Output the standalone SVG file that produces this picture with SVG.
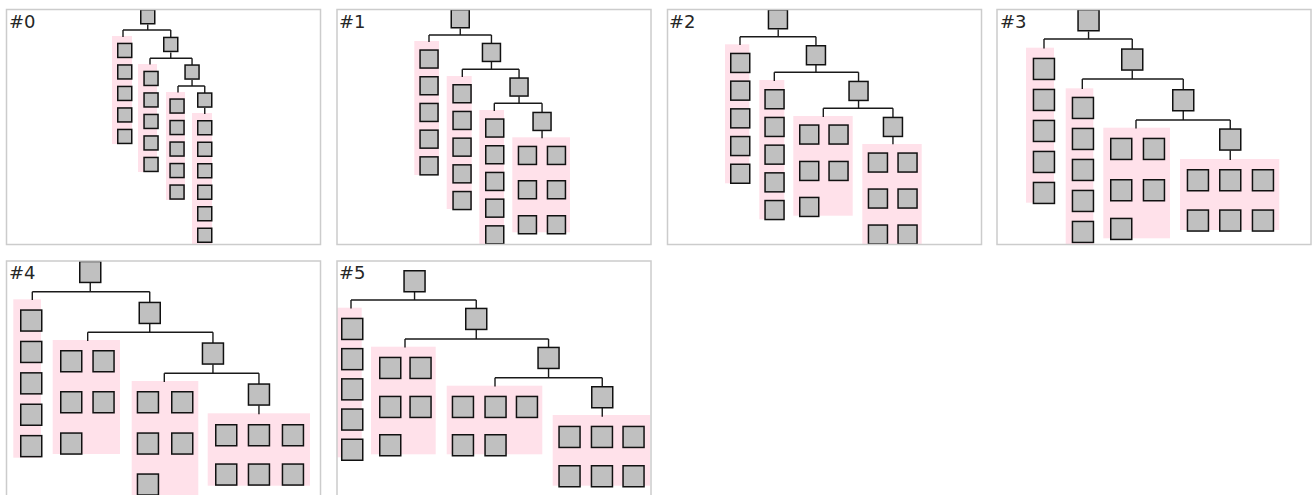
<svg xmlns="http://www.w3.org/2000/svg" width="1314" height="495" viewBox="0 0 1314 495">
<style>
.frame{fill:none;stroke:#cccccc;stroke-width:1.5}
.grp{fill:#ffe1ea}
.b{fill:#c0c0c0;stroke:#111;stroke-width:1.5}
.e{fill:none;stroke:#1a1a1a;stroke-width:1.4}
.lbl{font-family:"DejaVu Sans",sans-serif;font-size:18px;fill:#262626}
</style>
<defs>
<clipPath id="c0"><rect x="6.5" y="9.5" width="314" height="235"/></clipPath>
<clipPath id="c1"><rect x="337" y="9.5" width="314" height="235"/></clipPath>
<clipPath id="c2"><rect x="667.5" y="9.5" width="314" height="235"/></clipPath>
<clipPath id="c3"><rect x="997" y="9.5" width="314" height="235"/></clipPath>
<clipPath id="c4"><rect x="6.5" y="261" width="314" height="235"/></clipPath>
<clipPath id="c5"><rect x="337" y="261" width="314" height="235"/></clipPath>
</defs>
<rect width="1314" height="495" fill="#fff"/>

<!-- Panel 0 -->
<g id="panel0">
<g clip-path="url(#c0)">
<g id="p0-groups">
<rect class="grp" x="112" y="36" width="20" height="108"/>
<rect class="grp" x="138" y="64" width="19" height="108"/>
<rect class="grp" x="166" y="92" width="19" height="108"/>
<rect class="grp" x="192" y="113" width="20" height="140"/>
</g>
<g id="p0-connectors">
<path class="e" d="M147.75 24.5V30M123 30H170.75M123 30V37M170.75 30V37.5M170.75 52.5V58.3M150 58.3H192.05M150 58.3V64.5M192.05 58.3V65M192.05 80V86M178 86H204.75M178 86V92.5M204.75 86V93M204.75 108V114"/>
</g>
<g id="p0-root"><rect class="b" x="140.75" y="9.75" width="14" height="14"/></g>
<g id="p0-a1"><rect class="b" x="117.75" y="43.45" width="14" height="14"/></g>
<g id="p0-a2"><rect class="b" x="117.75" y="64.95" width="14" height="14"/></g>
<g id="p0-a3"><rect class="b" x="117.75" y="86.45" width="14" height="14"/></g>
<g id="p0-a4"><rect class="b" x="117.75" y="107.95" width="14" height="14"/></g>
<g id="p0-a5"><rect class="b" x="117.75" y="129.45" width="14" height="14"/></g>
<g id="p0-c1"><rect class="b" x="163.75" y="37.45" width="14" height="14"/></g>
<g id="p0-b1"><rect class="b" x="144.05" y="71.45" width="14" height="14"/></g>
<g id="p0-b2"><rect class="b" x="144.05" y="92.95" width="14" height="14"/></g>
<g id="p0-b3"><rect class="b" x="144.05" y="114.45" width="14" height="14"/></g>
<g id="p0-b4"><rect class="b" x="144.05" y="135.95" width="14" height="14"/></g>
<g id="p0-b5"><rect class="b" x="144.05" y="157.45" width="14" height="14"/></g>
<g id="p0-c2"><rect class="b" x="185.05" y="65.05" width="14" height="14"/></g>
<g id="p0-d1"><rect class="b" x="170.05" y="99.05" width="14" height="14"/></g>
<g id="p0-d2"><rect class="b" x="170.05" y="120.55" width="14" height="14"/></g>
<g id="p0-d3"><rect class="b" x="170.05" y="142.05" width="14" height="14"/></g>
<g id="p0-d4"><rect class="b" x="170.05" y="163.55" width="14" height="14"/></g>
<g id="p0-d5"><rect class="b" x="170.05" y="185.05" width="14" height="14"/></g>
<g id="p0-c3"><rect class="b" x="197.75" y="93.05" width="14" height="14"/></g>
<g id="p0-f1"><rect class="b" x="197.75" y="120.75" width="14" height="14"/></g>
<g id="p0-f2"><rect class="b" x="197.75" y="142.25" width="14" height="14"/></g>
<g id="p0-f3"><rect class="b" x="197.75" y="163.75" width="14" height="14"/></g>
<g id="p0-f4"><rect class="b" x="197.75" y="185.25" width="14" height="14"/></g>
<g id="p0-f5"><rect class="b" x="197.75" y="206.75" width="14" height="14"/></g>
<g id="p0-f6"><rect class="b" x="197.75" y="228.25" width="14" height="14"/></g>
</g>
<rect class="frame" x="6.5" y="9.5" width="314" height="235"/>
<text class="lbl" x="9" y="27.5">#0</text>
</g>

<!-- Panel 1 -->
<g id="panel1">
<g clip-path="url(#c1)">
<g id="p1-groups">
<rect class="grp" x="414.3" y="41" width="24.7" height="134"/>
<rect class="grp" x="446.7" y="76" width="25" height="133"/>
<rect class="grp" x="479.3" y="110" width="24.7" height="140"/>
<rect class="grp" x="512.3" y="137.3" width="57.7" height="95"/>
</g>
<g id="p1-connectors">
<path class="e" d="M460.25 28.5V35M429 35H491.45M429 35V42M491.45 35V43.5M491.45 62V69.3M462.3 69.3H519.05M462.3 69.3V77M519.05 69.3V78M519.05 96.5V103.3M494.3 103.3H542.05M494.3 103.3V111M542.05 103.3V112.5M542.05 131V138.3"/>
</g>
<g id="p1-root"><rect class="b" x="451.25" y="9.75" width="18" height="18"/></g>
<g id="p1-a1"><rect class="b" x="420.05" y="50.05" width="18" height="18"/></g>
<g id="p1-a2"><rect class="b" x="420.05" y="76.75" width="18" height="18"/></g>
<g id="p1-a3"><rect class="b" x="420.05" y="103.45" width="18" height="18"/></g>
<g id="p1-a4"><rect class="b" x="420.05" y="130.15" width="18" height="18"/></g>
<g id="p1-a5"><rect class="b" x="420.05" y="156.85" width="18" height="18"/></g>
<g id="p1-c1"><rect class="b" x="482.45" y="43.45" width="18" height="18"/></g>
<g id="p1-b1"><rect class="b" x="453.05" y="84.75" width="18" height="18"/></g>
<g id="p1-b2"><rect class="b" x="453.05" y="111.45" width="18" height="18"/></g>
<g id="p1-b3"><rect class="b" x="453.05" y="138.15" width="18" height="18"/></g>
<g id="p1-b4"><rect class="b" x="453.05" y="164.85" width="18" height="18"/></g>
<g id="p1-b5"><rect class="b" x="453.05" y="191.55" width="18" height="18"/></g>
<g id="p1-c2"><rect class="b" x="510.05" y="78.05" width="18" height="18"/></g>
<g id="p1-d1"><rect class="b" x="485.75" y="119.05" width="18" height="18"/></g>
<g id="p1-d2"><rect class="b" x="485.75" y="145.75" width="18" height="18"/></g>
<g id="p1-d3"><rect class="b" x="485.75" y="172.45" width="18" height="18"/></g>
<g id="p1-d4"><rect class="b" x="485.75" y="199.15" width="18" height="18"/></g>
<g id="p1-d5"><rect class="b" x="485.75" y="225.85" width="18" height="18"/></g>
<g id="p1-c3"><rect class="b" x="533.05" y="112.45" width="18" height="18"/></g>
<g id="p1-f1"><rect class="b" x="518.45" y="146.45" width="18" height="18"/></g>
<g id="p1-f2"><rect class="b" x="547.45" y="146.45" width="18" height="18"/></g>
<g id="p1-f3"><rect class="b" x="518.45" y="180.75" width="18" height="18"/></g>
<g id="p1-f4"><rect class="b" x="547.45" y="180.75" width="18" height="18"/></g>
<g id="p1-f5"><rect class="b" x="518.45" y="215.75" width="18" height="18"/></g>
<g id="p1-f6"><rect class="b" x="547.45" y="215.75" width="18" height="18"/></g>
</g>
<rect class="frame" x="337" y="9.5" width="314" height="235"/>
<text class="lbl" x="339" y="27.5">#1</text>
</g>

<!-- Panel 2 -->
<g id="panel2">
<g clip-path="url(#c2)">
<g id="p2-groups">
<rect class="grp" x="725" y="44.3" width="24.3" height="139"/>
<rect class="grp" x="759.3" y="80" width="25" height="139.3"/>
<rect class="grp" x="793.3" y="116" width="59.4" height="99.7"/>
<rect class="grp" x="862.3" y="144" width="59.4" height="106"/>
</g>
<g id="p2-connectors">
<path class="e" d="M778.2 29.5V36.7M740 36.7H815.95M740 36.7V45M815.95 36.7V46M815.95 65V72.3M774.3 72.3H858.55M774.3 72.3V81M858.55 72.3V82M858.55 100.5V108.3M823.3 108.3H892.95M823.3 108.3V117M892.95 108.3V118M892.95 137V144.3"/>
</g>
<g id="p2-root"><rect class="b" x="768.45" y="9.75" width="19" height="19"/></g>
<g id="p2-a1"><rect class="b" x="730.75" y="53.45" width="19" height="19"/></g>
<g id="p2-a2"><rect class="b" x="730.75" y="81.15" width="19" height="19"/></g>
<g id="p2-a3"><rect class="b" x="730.75" y="108.85" width="19" height="19"/></g>
<g id="p2-a4"><rect class="b" x="730.75" y="136.55" width="19" height="19"/></g>
<g id="p2-a5"><rect class="b" x="730.75" y="164.25" width="19" height="19"/></g>
<g id="p2-c1"><rect class="b" x="806.45" y="45.75" width="19" height="19"/></g>
<g id="p2-b1"><rect class="b" x="765.05" y="89.75" width="19" height="19"/></g>
<g id="p2-b2"><rect class="b" x="765.05" y="117.45" width="19" height="19"/></g>
<g id="p2-b3"><rect class="b" x="765.05" y="145.15" width="19" height="19"/></g>
<g id="p2-b4"><rect class="b" x="765.05" y="172.85" width="19" height="19"/></g>
<g id="p2-b5"><rect class="b" x="765.05" y="200.55" width="19" height="19"/></g>
<g id="p2-c2"><rect class="b" x="849.05" y="81.45" width="19" height="19"/></g>
<g id="p2-d1"><rect class="b" x="799.75" y="125.05" width="19" height="19"/></g>
<g id="p2-d2"><rect class="b" x="829.05" y="125.05" width="19" height="19"/></g>
<g id="p2-d3"><rect class="b" x="799.75" y="161.45" width="19" height="19"/></g>
<g id="p2-d4"><rect class="b" x="829.05" y="161.45" width="19" height="19"/></g>
<g id="p2-d5"><rect class="b" x="799.75" y="197.45" width="19" height="19"/></g>
<g id="p2-c3"><rect class="b" x="883.45" y="117.45" width="19" height="19"/></g>
<g id="p2-f1"><rect class="b" x="868.45" y="153.05" width="19" height="19"/></g>
<g id="p2-f2"><rect class="b" x="898.05" y="153.05" width="19" height="19"/></g>
<g id="p2-f3"><rect class="b" x="868.45" y="189.05" width="19" height="19"/></g>
<g id="p2-f4"><rect class="b" x="898.05" y="189.05" width="19" height="19"/></g>
<g id="p2-f5"><rect class="b" x="868.45" y="225.05" width="19" height="19"/></g>
<g id="p2-f6"><rect class="b" x="898.05" y="225.05" width="19" height="19"/></g>
</g>
<rect class="frame" x="667.5" y="9.5" width="314" height="235"/>
<text class="lbl" x="669" y="27.5">#2</text>
</g>

<!-- Panel 3 -->
<g id="panel3">
<g clip-path="url(#c3)">
<g id="p3-groups">
<rect class="grp" x="1026" y="47.7" width="28" height="155"/>
<rect class="grp" x="1065.7" y="88.3" width="27.6" height="162"/>
<rect class="grp" x="1103.3" y="127.7" width="66.7" height="110.6"/>
<rect class="grp" x="1180" y="159" width="99.3" height="71"/>
</g>
<g id="p3-connectors">
<path class="e" d="M1088.55 31.5V39M1044 39H1132.25M1044 39V48.5M1132.25 39V49.5M1132.25 70.5V79M1082.3 79H1183.25M1082.3 79V89M1183.25 79V90M1183.25 111V120M1136 120H1230.25M1136 120V128.5M1230.25 120V129.5M1230.25 150.5V160"/>
</g>
<g id="p3-root"><rect class="b" x="1078.05" y="9.75" width="21" height="21"/></g>
<g id="p3-a1"><rect class="b" x="1033.45" y="58.45" width="21" height="21"/></g>
<g id="p3-a2"><rect class="b" x="1033.45" y="89.45" width="21" height="21"/></g>
<g id="p3-a3"><rect class="b" x="1033.45" y="120.45" width="21" height="21"/></g>
<g id="p3-a4"><rect class="b" x="1033.45" y="151.45" width="21" height="21"/></g>
<g id="p3-a5"><rect class="b" x="1033.45" y="182.45" width="21" height="21"/></g>
<g id="p3-c1"><rect class="b" x="1121.75" y="49.05" width="21" height="21"/></g>
<g id="p3-b1"><rect class="b" x="1072.45" y="97.45" width="21" height="21"/></g>
<g id="p3-b2"><rect class="b" x="1072.45" y="128.45" width="21" height="21"/></g>
<g id="p3-b3"><rect class="b" x="1072.45" y="159.45" width="21" height="21"/></g>
<g id="p3-b4"><rect class="b" x="1072.45" y="190.45" width="21" height="21"/></g>
<g id="p3-b5"><rect class="b" x="1072.45" y="221.45" width="21" height="21"/></g>
<g id="p3-c2"><rect class="b" x="1172.75" y="89.75" width="21" height="21"/></g>
<g id="p3-d1"><rect class="b" x="1110.75" y="138.45" width="21" height="21"/></g>
<g id="p3-d2"><rect class="b" x="1143.45" y="138.45" width="21" height="21"/></g>
<g id="p3-d3"><rect class="b" x="1110.75" y="179.75" width="21" height="21"/></g>
<g id="p3-d4"><rect class="b" x="1143.45" y="179.75" width="21" height="21"/></g>
<g id="p3-d5"><rect class="b" x="1110.75" y="218.45" width="21" height="21"/></g>
<g id="p3-c3"><rect class="b" x="1219.75" y="129.05" width="21" height="21"/></g>
<g id="p3-f1"><rect class="b" x="1187.45" y="169.75" width="21" height="21"/></g>
<g id="p3-f2"><rect class="b" x="1219.75" y="169.75" width="21" height="21"/></g>
<g id="p3-f3"><rect class="b" x="1252.45" y="169.75" width="21" height="21"/></g>
<g id="p3-f4"><rect class="b" x="1187.45" y="210.05" width="21" height="21"/></g>
<g id="p3-f5"><rect class="b" x="1219.75" y="210.05" width="21" height="21"/></g>
<g id="p3-f6"><rect class="b" x="1252.45" y="210.05" width="21" height="21"/></g>
</g>
<rect class="frame" x="997" y="9.5" width="314" height="235"/>
<text class="lbl" x="1000" y="27.5">#3</text>
</g>

<!-- Panel 4 -->
<g id="panel4">
<g clip-path="url(#c4)">
<g id="p4-groups">
<rect class="grp" x="13.3" y="299.3" width="27.7" height="158.4"/>
<rect class="grp" x="52.7" y="340" width="67.3" height="114"/>
<rect class="grp" x="131.7" y="381" width="66.6" height="120"/>
<rect class="grp" x="207.7" y="413.3" width="102.3" height="72.4"/>
</g>
<g id="p4-connectors">
<path class="e" d="M90.25 283V291.7M32.3 291.7H149.75M32.3 291.7V300M149.75 291.7V303M149.75 324V332.3M87.7 332.3H212.95M87.7 332.3V341M212.95 332.3V343.5M212.95 364.5V373.3M164.3 373.3H258.95M164.3 373.3V382M258.95 373.3V384.5M258.95 405.5V414.3"/>
</g>
<g id="p4-root"><rect class="b" x="79.75" y="261.45" width="21" height="21"/></g>
<g id="p4-a1"><rect class="b" x="20.75" y="310.05" width="21" height="21"/></g>
<g id="p4-a2"><rect class="b" x="20.75" y="341.45" width="21" height="21"/></g>
<g id="p4-a3"><rect class="b" x="20.75" y="372.85" width="21" height="21"/></g>
<g id="p4-a4"><rect class="b" x="20.75" y="404.25" width="21" height="21"/></g>
<g id="p4-a5"><rect class="b" x="20.75" y="435.65" width="21" height="21"/></g>
<g id="p4-c1"><rect class="b" x="139.25" y="302.45" width="21" height="21"/></g>
<g id="p4-b1"><rect class="b" x="60.75" y="350.75" width="21" height="21"/></g>
<g id="p4-b2"><rect class="b" x="93.05" y="350.75" width="21" height="21"/></g>
<g id="p4-b3"><rect class="b" x="60.75" y="391.75" width="21" height="21"/></g>
<g id="p4-b4"><rect class="b" x="93.05" y="391.75" width="21" height="21"/></g>
<g id="p4-b5"><rect class="b" x="60.75" y="433.05" width="21" height="21"/></g>
<g id="p4-c2"><rect class="b" x="202.45" y="343.05" width="21" height="21"/></g>
<g id="p4-d1"><rect class="b" x="137.45" y="391.75" width="21" height="21"/></g>
<g id="p4-d2"><rect class="b" x="171.75" y="391.75" width="21" height="21"/></g>
<g id="p4-d3"><rect class="b" x="137.45" y="433.05" width="21" height="21"/></g>
<g id="p4-d4"><rect class="b" x="171.75" y="433.05" width="21" height="21"/></g>
<g id="p4-d5"><rect class="b" x="137.45" y="474.05" width="21" height="21"/></g>
<g id="p4-c3"><rect class="b" x="248.45" y="384.05" width="21" height="21"/></g>
<g id="p4-f1"><rect class="b" x="215.75" y="424.75" width="21" height="21"/></g>
<g id="p4-f2"><rect class="b" x="248.45" y="424.75" width="21" height="21"/></g>
<g id="p4-f3"><rect class="b" x="282.45" y="424.75" width="21" height="21"/></g>
<g id="p4-f4"><rect class="b" x="215.75" y="464.05" width="21" height="21"/></g>
<g id="p4-f5"><rect class="b" x="248.45" y="464.05" width="21" height="21"/></g>
<g id="p4-f6"><rect class="b" x="282.45" y="464.05" width="21" height="21"/></g>
</g>
<rect class="frame" x="6.5" y="261" width="314" height="235"/>
<text class="lbl" x="9" y="278.5">#4</text>
</g>

<!-- Panel 5 -->
<g id="panel5">
<g clip-path="url(#c5)">
<g id="p5-groups">
<rect class="grp" x="336" y="307.7" width="25.7" height="149.6"/>
<rect class="grp" x="371" y="346.7" width="64.7" height="107.6"/>
<rect class="grp" x="446.7" y="385.7" width="95.6" height="68.6"/>
<rect class="grp" x="552.7" y="415" width="97.3" height="70.7"/>
</g>
<g id="p5-connectors">
<path class="e" d="M414.55 292V300M351 300H476.25M351 300V308.5M476.25 300V309M476.25 330V339M405 339H548.55M405 339V347.5M548.55 339V348M548.55 369V377.7M495 377.7H602.25M495 377.7V386.5M602.25 377.7V387M602.25 408V416.7"/>
</g>
<g id="p5-root"><rect class="b" x="404.05" y="270.75" width="21" height="21"/></g>
<g id="p5-a1"><rect class="b" x="341.75" y="318.45" width="21" height="21"/></g>
<g id="p5-a2"><rect class="b" x="341.75" y="348.65" width="21" height="21"/></g>
<g id="p5-a3"><rect class="b" x="341.75" y="378.85" width="21" height="21"/></g>
<g id="p5-a4"><rect class="b" x="341.75" y="409.05" width="21" height="21"/></g>
<g id="p5-a5"><rect class="b" x="341.75" y="439.25" width="21" height="21"/></g>
<g id="p5-c1"><rect class="b" x="465.75" y="308.45" width="21" height="21"/></g>
<g id="p5-b1"><rect class="b" x="379.75" y="357.45" width="21" height="21"/></g>
<g id="p5-b2"><rect class="b" x="410.05" y="357.45" width="21" height="21"/></g>
<g id="p5-b3"><rect class="b" x="379.75" y="396.45" width="21" height="21"/></g>
<g id="p5-b4"><rect class="b" x="410.05" y="396.45" width="21" height="21"/></g>
<g id="p5-b5"><rect class="b" x="379.75" y="434.75" width="21" height="21"/></g>
<g id="p5-c2"><rect class="b" x="538.05" y="347.45" width="21" height="21"/></g>
<g id="p5-d1"><rect class="b" x="452.45" y="396.45" width="21" height="21"/></g>
<g id="p5-d2"><rect class="b" x="485.05" y="396.45" width="21" height="21"/></g>
<g id="p5-d3"><rect class="b" x="516.45" y="396.45" width="21" height="21"/></g>
<g id="p5-d4"><rect class="b" x="452.45" y="434.75" width="21" height="21"/></g>
<g id="p5-d5"><rect class="b" x="485.05" y="434.75" width="21" height="21"/></g>
<g id="p5-c3"><rect class="b" x="591.75" y="386.75" width="21" height="21"/></g>
<g id="p5-f1"><rect class="b" x="559.05" y="426.45" width="21" height="21"/></g>
<g id="p5-f2"><rect class="b" x="591.45" y="426.45" width="21" height="21"/></g>
<g id="p5-f3"><rect class="b" x="623.05" y="426.45" width="21" height="21"/></g>
<g id="p5-f4"><rect class="b" x="559.05" y="465.75" width="21" height="21"/></g>
<g id="p5-f5"><rect class="b" x="591.45" y="465.75" width="21" height="21"/></g>
<g id="p5-f6"><rect class="b" x="623.05" y="465.75" width="21" height="21"/></g>
</g>
<rect class="frame" x="337" y="261" width="314" height="235"/>
<text class="lbl" x="339" y="278.5">#5</text>
</g>
</svg>
